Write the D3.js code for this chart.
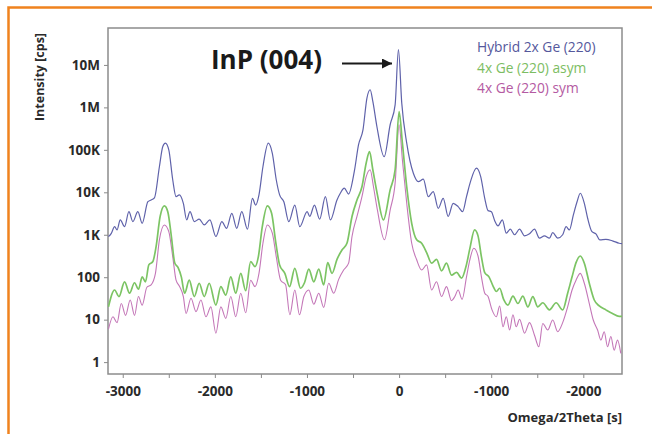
<!DOCTYPE html>
<html>
<head>
<meta charset="utf-8" />
<title>InP (004) rocking curves</title>
<style>
html, body { margin: 0; padding: 0; background: #fff; }
#graph { width: 652px; height: 434px; }
text { font-family: "Open Sans", "DejaVu Sans", sans-serif; }
.tick text { font-size: 13.5px; font-weight: 700; fill: #2a2a2a; }
.tick line { stroke: #8a8a8a; }
</style>
</head>
<body>
<div id="graph"></div>
<script src="https://d3js.org/d3.v7.min.js"></script>
<script>
// omega/2theta position [s] and intensity [cps]
var hybridX = [-3155, -3124, -3088, -3062, -3027, -2980, -2933, -2890, -2836, -2789, -2727, -2692, -2656, -2602, -2565, -2537, -2500, -2457, -2421, -2386, -2342, -2306, -2270, -2223, -2170, -2115, -2054, -1989, -1924, -1873, -1816, -1762, -1708, -1646, -1592, -1557, -1521, -1478, -1420, -1376, -1333, -1297, -1251, -1197, -1132, -1078, -998, -970, -919, -862, -800, -746, -674, -638, -595, -548, -486, -440, -392, -349, -314, -285, -241, -162, -97, -43, -7, 29, 83, 155, 209, 263, 317, 371, 425, 479, 533, 587, 641, 689, 732, 775, 840, 886, 930, 966, 1002, 1038, 1074, 1121, 1164, 1207, 1254, 1308, 1362, 1416, 1470, 1524, 1578, 1632, 1668, 1722, 1776, 1813, 1849, 1892, 1932, 1967, 2011, 2047, 2094, 2137, 2180, 2245, 2317, 2389, 2420];
var hybridY = [900, 1080, 1550, 1300, 2240, 1550, 3500, 2040, 3500, 1860, 6000, 6600, 7400, 40000, 120000, 144000, 100000, 19500, 7900, 8700, 5500, 2240, 3500, 2040, 2330, 1700, 2240, 910, 2040, 1420, 3200, 1420, 3500, 1350, 7200, 5000, 8700, 40000, 144000, 83000, 19500, 8700, 6000, 2040, 5000, 1550, 3500, 2700, 5000, 2330, 7900, 2240, 6600, 9500, 12500, 9100, 31000, 132000, 295000, 1660000, 2600000, 1380000, 355000, 69000, 390000, 1150000, 23000000, 1260000, 144000, 28000, 17800, 20400, 7900, 10400, 4200, 7200, 2700, 5500, 4600, 3500, 7900, 17800, 37000, 23500, 7200, 3700, 3500, 2150, 1620, 2240, 1090, 1350, 1000, 1350, 940, 1050, 1350, 830, 940, 830, 1120, 830, 1000, 1550, 1300, 2940, 6000, 9500, 5500, 2450, 1180, 1050, 760, 780, 720, 630, 620];

var asymX = [-3155, -3088, -3041, -2980, -2926, -2872, -2829, -2789, -2753, -2717, -2673, -2638, -2594, -2548, -2511, -2472, -2436, -2400, -2364, -2328, -2278, -2223, -2170, -2115, -2061, -1989, -1935, -1881, -1827, -1773, -1719, -1665, -1611, -1564, -1528, -1485, -1430, -1384, -1340, -1297, -1240, -1189, -1132, -1070, -1027, -980, -926, -872, -818, -775, -728, -674, -620, -566, -511, -457, -403, -357, -321, -285, -235, -170, -97, -43, 0, 36, 83, 137, 191, 245, 299, 353, 407, 461, 515, 569, 624, 678, 732, 768, 820, 857, 894, 930, 976, 1020, 1056, 1092, 1135, 1182, 1236, 1290, 1344, 1398, 1452, 1506, 1560, 1632, 1705, 1776, 1830, 1878, 1921, 1967, 2011, 2065, 2119, 2173, 2245, 2317, 2389, 2420];
var asymY = [20, 50, 35, 78, 42, 74, 52, 102, 78, 195, 234, 525, 2700, 4800, 3500, 910, 220, 170, 102, 42, 85, 35, 72, 35, 72, 22, 60, 38, 102, 42, 123, 48, 234, 178, 302, 1550, 4800, 3200, 690, 195, 123, 60, 162, 55, 74, 155, 78, 155, 66, 220, 123, 263, 436, 630, 2700, 6600, 13500, 49000, 91000, 34000, 8700, 2240, 11400, 34000, 800000, 144000, 13500, 1860, 760, 630, 380, 214, 263, 141, 214, 112, 130, 95, 200, 470, 1300, 940, 302, 128, 102, 62, 46, 55, 30, 22, 36, 24, 36, 20, 35, 20, 25, 17, 25, 17, 42, 102, 220, 316, 214, 72, 29, 21, 17, 14, 12, 12];

var symX = [-3155, -3106, -3062, -3016, -2969, -2919, -2872, -2829, -2789, -2738, -2692, -2645, -2602, -2548, -2500, -2457, -2421, -2386, -2342, -2313, -2259, -2205, -2151, -2097, -2043, -1989, -1935, -1881, -1827, -1773, -1719, -1665, -1611, -1564, -1521, -1478, -1430, -1376, -1333, -1286, -1232, -1186, -1132, -1081, -1034, -980, -926, -872, -818, -764, -710, -656, -602, -548, -511, -457, -403, -357, -314, -278, -235, -159, -97, -43, 0, 36, 83, 137, 191, 245, 299, 353, 407, 461, 515, 569, 605, 641, 684, 732, 768, 811, 857, 894, 930, 966, 1009, 1056, 1092, 1128, 1164, 1200, 1236, 1272, 1308, 1362, 1416, 1470, 1517, 1560, 1614, 1668, 1722, 1776, 1830, 1878, 1921, 1967, 2011, 2065, 2108, 2155, 2191, 2227, 2263, 2299, 2335, 2371, 2407];
var symY = [6, 11.7, 8.5, 24, 12.6, 29, 12.6, 35, 22, 58, 66, 123, 760, 1700, 1180, 302, 85, 62, 35, 14, 32, 15.5, 29, 11.7, 20, 4.8, 20, 10.7, 35, 11.7, 42, 14.5, 85, 60, 123, 630, 1700, 1090, 302, 85, 66, 13, 50, 13, 35, 50, 23, 42, 19.5, 72, 42, 89, 148, 214, 910, 2700, 7900, 23500, 34000, 13500, 3800, 760, 3800, 16400, 390000, 58000, 5500, 630, 257, 148, 195, 50, 78, 35, 60, 28, 35, 50, 30, 102, 257, 480, 316, 102, 42, 35, 17, 11.7, 21, 6.8, 11.7, 5.7, 13, 6.8, 10.2, 4.8, 8.5, 4.3, 2.3, 8.1, 5.7, 9.8, 5.2, 8.5, 20, 50, 85, 123, 72, 24, 9.8, 5.7, 3.3, 5.2, 2.3, 4, 1.9, 3.3, 1.6];

var seriesNames = ["Hybrid 2x Ge (220)", "4x Ge (220) asym", "4x Ge (220) sym"];
var seriesColors = ["#5f62aa", "#7cc464", "#c477b8"];
var legendColors = ["#55589c", "#7cbd62", "#b45aa2"];

var yTickValues = [1, 10, 100, 1e3, 1e4, 1e5, 1e6, 1e7];
var yTickLabels = ["1", "10", "100", "1K", "10K", "100K", "1M", "10M"];
var xTickValues = [-3000, -2000, -1000, 0, 1000, 2000];
var xTickLabels = ["-3000", "-2000", "-1000", "0", "-1000", "-2000"];
var xMinorTicks = [-2500, -1500, -500, 500, 1500];

!(function(){
    "use strict"

    var width = 652, height = 434;
    var margin = {top: 28, left: 108, bottom: 60, right: 30};
    var chartWidth = width - margin.left - margin.right;
    var chartHeight = height - margin.top - margin.bottom;

    var svg = d3.select("#graph").append("svg")
        .attr("width", width).attr("height", height);
    var frameLayer = svg.append("g").classed("frameLayer", true);
    var axisLayer = svg.append("g").classed("axisLayer", true);
    var chartLayer = svg.append("g").classed("chartLayer", true)
        .attr("transform", "translate(" + [margin.left, margin.top] + ")");

    var xScale = d3.scaleLinear().domain([-3160, 2420]).range([0, chartWidth]);
    var yScale = d3.scaleLog().domain([Math.pow(10, -0.28), Math.pow(10, 7.87)]).range([chartHeight, 0]);

    var series = [
        {x: hybridX, y: hybridY, w: 1.2},
        {x: asymX, y: asymY, w: 1.7},
        {x: symX, y: symY, w: 1.1}
    ];

    drawFrame()
    drawAxis()
    drawChart()
    drawText()

    function drawFrame() {
        // orange surround, runs off right and bottom edges
        frameLayer.append("rect")
            .attr("x", 8.5).attr("y", 7.5)
            .attr("width", width + 20).attr("height", height + 20)
            .attr("fill", "none")
            .attr("stroke", "#f0821e")
            .attr("stroke-width", 2.5)
    }

    function drawAxis() {
        var yAxis = d3.axisLeft(yScale)
            .tickValues(yTickValues)
            .tickSize(4)
            .tickPadding(4)
            .tickFormat(function(d, i){ return yTickLabels[i] })

        axisLayer.append("g")
            .attr("class", "axis y")
            .attr("transform", "translate(" + [margin.left, margin.top] + ")")
            .call(yAxis)

        var xAxis = d3.axisBottom(xScale)
            .tickValues(xTickValues)
            .tickSize(4)
            .tickPadding(8)
            .tickFormat(function(d, i){ return xTickLabels[i] })

        axisLayer.append("g")
            .attr("class", "axis x")
            .attr("transform", "translate(" + [margin.left, margin.top + chartHeight] + ")")
            .call(xAxis)

        axisLayer.append("g")
            .attr("class", "axis xminor")
            .attr("transform", "translate(" + [margin.left, margin.top + chartHeight] + ")")
            .call(d3.axisBottom(xScale).tickValues(xMinorTicks).tickSize(4).tickFormat(""))

        axisLayer.selectAll(".domain").remove()

        axisLayer.append("rect")
            .attr("x", margin.left).attr("y", margin.top)
            .attr("width", chartWidth).attr("height", chartHeight)
            .attr("fill", "none")
            .attr("stroke", "#8c8c8c")
            .attr("stroke-width", 1.5)
    }

    function drawChart() {
        chartLayer.append("clipPath").attr("id", "plotClip")
            .append("rect").attr("width", chartWidth).attr("height", chartHeight)

        var lineGen = d3.line()
            .x(function(d){ return xScale(d[0]) })
            .y(function(d){ return yScale(d[1]) })
            .curve(d3.curveMonotoneX)

        // draw pink first, blue last
        series.slice().reverse().forEach(function(s, k){
            var i = series.length - 1 - k;
            var pts = s.x.map(function(v, j){ return [v, s.y[j]] });
            chartLayer.append("path")
                .datum(pts)
                .attr("clip-path", "url(#plotClip)")
                .attr("d", lineGen)
                .attr("fill", "none")
                .attr("stroke", seriesColors[i])
                .attr("stroke-width", s.w)
                .attr("stroke-linejoin", "round")
        })
    }

    function drawText() {
        svg.append("text")
            .attr("transform", "translate(44,77) rotate(-90)")
            .attr("text-anchor", "middle")
            .attr("font-size", 12.5)
            .attr("font-weight", 700)
            .attr("fill", "#2a2a2a")
            .text("Intensity [cps]")

        svg.append("text")
            .attr("x", margin.left + chartWidth).attr("y", 422)
            .attr("text-anchor", "end")
            .attr("font-size", 13)
            .attr("font-weight", 700)
            .attr("fill", "#2a2a2a")
            .text("Omega/2Theta [s]")

        svg.append("text")
            .attr("x", 211).attr("y", 69)
            .attr("font-size", 26)
            .attr("font-weight", 700)
            .attr("fill", "#1a1a1a")
            .text("InP (004)")

        svg.append("defs").append("marker")
            .attr("id", "head")
            .attr("viewBox", "0 0 10 10")
            .attr("refX", 10).attr("refY", 5)
            .attr("markerWidth", 7).attr("markerHeight", 5)
            .attr("markerUnits", "strokeWidth")
            .attr("orient", "auto")
            .append("path").attr("d", "M0,0 L10,5 L0,10 Z").attr("fill", "#1a1a1a")

        svg.append("line")
            .attr("x1", 342).attr("y1", 63.5)
            .attr("x2", 392).attr("y2", 63.5)
            .attr("stroke", "#1a1a1a")
            .attr("stroke-width", 2)
            .attr("marker-end", "url(#head)")

        var legend = svg.append("g").attr("transform", "translate(477,0)")
        legend.selectAll("text").data(seriesNames).enter().append("text")
            .attr("x", 0)
            .attr("y", function(d, i){ return 52 + i * 20.5 })
            .attr("font-size", 13.8)
            .attr("fill", function(d, i){ return legendColors[i] })
            .text(function(d){ return d })
    }
}());
</script>
</body>
</html>
